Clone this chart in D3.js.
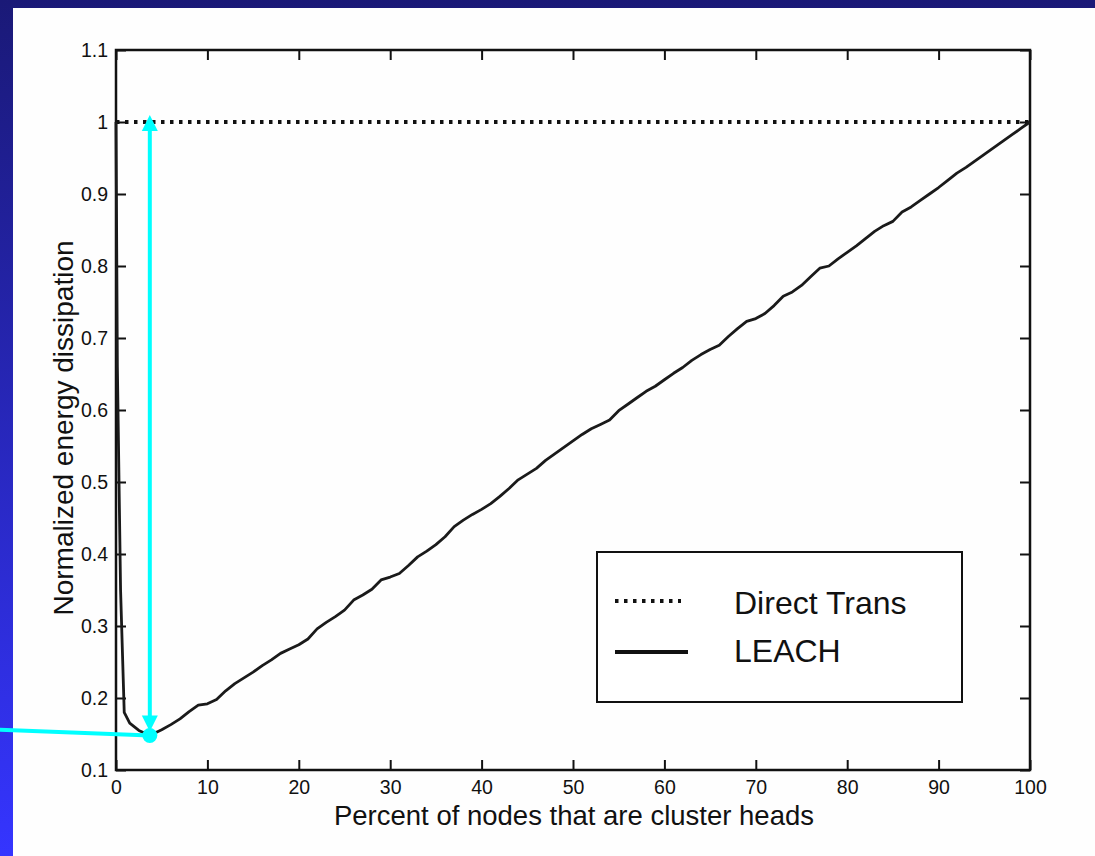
<!DOCTYPE html>
<html>
<head>
<meta charset="utf-8">
<script src="https://cdn.jsdelivr.net/npm/d3@7"></script>
<style>
  html, body { margin: 0; padding: 0; background: #fff; }
  svg { display: block; }
  text { font-family: "Liberation Sans", Arial, Helvetica, sans-serif; fill: #111; }
</style>
</head>
<body>
<div id="chart"></div>
<script>
// DATA
var pct = [0, 0.15, 0.5, 0.9, 1.5, 2.5, 3.7, 5, 6, 7, 8, 9, 10, 11, 12, 13, 14, 15, 16, 17, 18, 19, 20,
  21, 22, 23, 24, 25, 26, 27, 28, 29, 30, 31, 32, 33, 34, 35, 36, 37, 38, 39, 40,
  41, 42, 43, 44, 45, 46, 47, 48, 49, 50, 51, 52, 53, 54, 55, 56, 57, 58, 59, 60,
  61, 62, 63, 64, 65, 66, 67, 68, 69, 70, 71, 72, 73, 74, 75, 76, 77, 78, 79, 80,
  81, 82, 83, 84, 85, 86, 87, 88, 89, 90, 91, 92, 93, 94, 95, 96, 97, 98, 99, 100];
var leach = [1.0, 0.66, 0.35, 0.18, 0.165, 0.155, 0.148, 0.156, 0.163, 0.171, 0.181, 0.190, 0.192,
  0.198, 0.210, 0.220, 0.228, 0.236, 0.245, 0.253, 0.262, 0.268, 0.274,
  0.282, 0.296, 0.305, 0.313, 0.322, 0.336, 0.343, 0.351, 0.364, 0.368,
  0.373, 0.384, 0.396, 0.404, 0.413, 0.424, 0.438, 0.447, 0.455, 0.462,
  0.470, 0.480, 0.491, 0.503, 0.511, 0.519, 0.530, 0.539, 0.548, 0.557,
  0.566, 0.574, 0.580, 0.586, 0.599, 0.608, 0.617, 0.626, 0.633, 0.642,
  0.651, 0.659, 0.669, 0.677, 0.684, 0.690, 0.702, 0.713, 0.723, 0.727,
  0.734, 0.745, 0.758, 0.764, 0.773, 0.785, 0.797, 0.800, 0.810, 0.819,
  0.828, 0.838, 0.848, 0.856, 0.862, 0.875, 0.882, 0.891, 0.900, 0.909,
  0.919, 0.929, 0.937, 0.946, 0.955, 0.964, 0.973, 0.982, 0.991, 1.000];
var directPct = [0, 100];
var direct = [1, 1];

var xTicks = [0, 10, 20, 30, 40, 50, 60, 70, 80, 90, 100];
var yTicks = [0.1, 0.2, 0.3, 0.4, 0.5, 0.6, 0.7, 0.8, 0.9, 1, 1.1];
var legendNames = ["Direct Trans", "LEACH"];

// cyan annotation: optimum percentage, its energy, and the leader start
var optPct = 3.7;
var optEnergy = 0.148;
var optTop = 1.0;
var leaderFrom = [-12.7, 0.156];

//SIZES
var W = 1095, H = 856;
var margin = {top: 50, right: 65, bottom: 86, left: 116};
var width = W - margin.left - margin.right,
    height = H - margin.top - margin.bottom;

var svg = d3.select("#chart").append("svg")
  .attr("width", W).attr("height", H);

//BACKGROUND
var defs = svg.append("defs");
var grad = defs.append("linearGradient").attr("id", "bg")
  .attr("x1", 0).attr("y1", 0).attr("x2", 0).attr("y2", 1);
grad.append("stop").attr("offset", "0%").attr("stop-color", "#1a1977");
grad.append("stop").attr("offset", "100%").attr("stop-color", "#3535ff");
svg.append("rect").attr("width", W).attr("height", H).attr("fill", "url(#bg)");
svg.append("rect").attr("x", 13).attr("y", 8).attr("width", W - 13).attr("height", H - 8)
  .attr("fill", "#fefefe");

var g = svg.append("g")
  .attr("transform", "translate(" + margin.left + "," + margin.top + ")");

var x = d3.scaleLinear().domain([0, 100]).range([0, width]);
var y = d3.scaleLinear().domain([0.1, 1.1]).range([height, 0]);

// AXES (matlab style, ticks inside)
var fmt = function(d) { return d3.format("")(+d.toFixed(1)); };
var ax = g.append("g").attr("transform", "translate(0," + height + ")")
  .call(d3.axisBottom(x).tickValues(xTicks).tickSizeInner(-10).tickSizeOuter(0).tickPadding(10));
var ay = g.append("g")
  .call(d3.axisLeft(y).tickValues(yTicks).tickFormat(fmt).tickSizeInner(-10).tickSizeOuter(0).tickPadding(8));
var at = g.append("g")
  .call(d3.axisTop(x).tickValues(xTicks).tickSizeInner(-10).tickSizeOuter(0).tickFormat(""));
var ar = g.append("g").attr("transform", "translate(" + width + ",0)")
  .call(d3.axisRight(y).tickValues(yTicks).tickSizeInner(-10).tickSizeOuter(0).tickFormat(""));
[ax, ay, at, ar].forEach(function(a) {
  a.selectAll("path.domain").remove();
  a.selectAll("line").attr("stroke", "#111").attr("stroke-width", 2);
  a.selectAll("text").attr("font-size", 19.5).attr("fill", "#111")
    .style("font-family", "'Liberation Sans', Arial, sans-serif");
});
g.append("rect").attr("width", width).attr("height", height)
  .attr("fill", "none").attr("stroke", "#111").attr("stroke-width", 2.5);

// LINES
var line = d3.line().x(function(d) { return x(d[0]); }).y(function(d) { return y(d[1]); });
g.append("path")
  .datum(directPct.map(function(p, i) { return [p, direct[i]]; }))
  .attr("fill", "none").attr("stroke", "#111").attr("stroke-width", 4)
  .attr("stroke-dasharray", "3.5,5.5").attr("d", line);
g.append("path")
  .datum(pct.map(function(p, i) { return [p, leach[i]]; }))
  .attr("fill", "none").attr("stroke", "#1a1a1a").attr("stroke-width", 2.8)
  .attr("stroke-linejoin", "round").attr("d", line);

// AXIS TITLES
svg.append("text")
  .attr("x", margin.left + width / 2 + 1).attr("y", 825)
  .attr("text-anchor", "middle").attr("font-size", 27.5)
  .text("Percent of nodes that are cluster heads");
svg.append("text")
  .attr("transform", "translate(73," + (margin.top + height / 2 + 18) + ") rotate(-90)")
  .attr("text-anchor", "middle").attr("font-size", 28)
  .text("Normalized energy dissipation");

// LEGEND
var lg = svg.append("g");
lg.append("rect").attr("x", 597).attr("y", 552).attr("width", 365).attr("height", 150)
  .attr("fill", "#fff").attr("stroke", "#111").attr("stroke-width", 2);
lg.append("line").attr("x1", 615).attr("x2", 681).attr("y1", 601).attr("y2", 601)
  .attr("stroke", "#111").attr("stroke-width", 4).attr("stroke-dasharray", "3.5,5.5");
lg.append("line").attr("x1", 615).attr("x2", 688).attr("y1", 652).attr("y2", 652)
  .attr("stroke", "#111").attr("stroke-width", 4);
lg.selectAll("text.lbl").data(legendNames).enter().append("text")
  .attr("class", "lbl")
  .attr("x", 734).attr("y", function(d, i) { return 614 + i * 48; })
  .attr("font-size", 32).text(function(d) { return d; });

// CYAN ANNOTATION
var cyan = "#00ffff";
var ax0 = margin.left + x(optPct);
var yTop = margin.top + y(optTop);
var yBot = margin.top + y(optEnergy);
svg.append("line")
  .attr("x1", margin.left + x(leaderFrom[0])).attr("y1", margin.top + y(leaderFrom[1]))
  .attr("x2", ax0).attr("y2", yBot)
  .attr("stroke", cyan).attr("stroke-width", 4);
svg.append("line").attr("x1", ax0).attr("x2", ax0).attr("y1", yTop).attr("y2", yBot - 12)
  .attr("stroke", cyan).attr("stroke-width", 4);
svg.append("path")
  .attr("d", "M" + ax0 + "," + (yTop - 7) + "L" + (ax0 - 8) + "," + (yTop + 9) + "L" + (ax0 + 8) + "," + (yTop + 9) + "Z")
  .attr("fill", cyan);
svg.append("path")
  .attr("d", "M" + ax0 + "," + (yBot - 4) + "L" + (ax0 - 8) + "," + (yBot - 20) + "L" + (ax0 + 8) + "," + (yBot - 20) + "Z")
  .attr("fill", cyan);
svg.append("circle").attr("cx", ax0).attr("cy", yBot).attr("r", 7.5).attr("fill", cyan);
</script>
</body>
</html>
